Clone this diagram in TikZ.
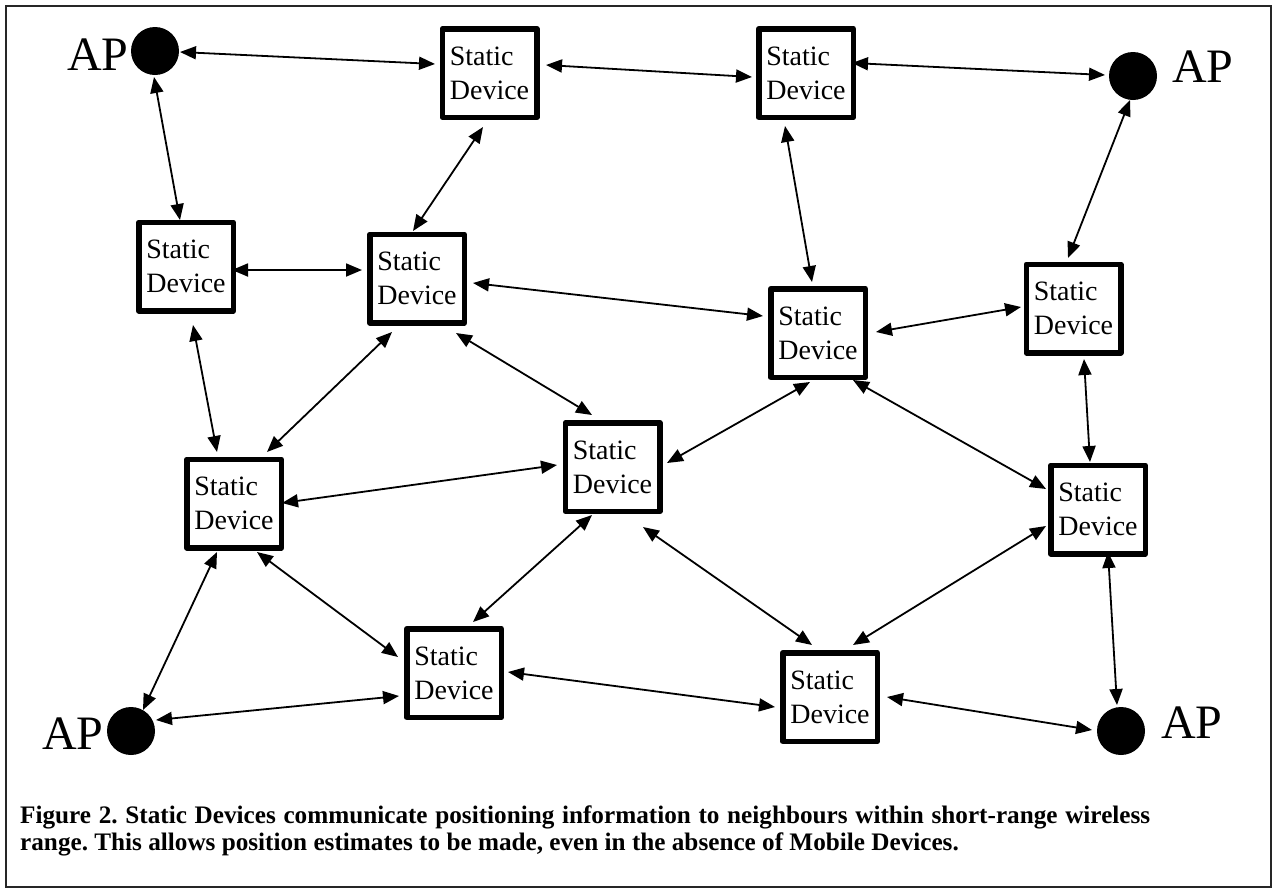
\documentclass[tikz,border=0pt]{standalone}
\usepackage{fontspec}
\setmainfont{Liberation Serif}
\usetikzlibrary{arrows.meta,calc}
\frenchspacing
\begin{document}
\begin{tikzpicture}[x=1pt,y=-1pt,
  dev/.style={draw, line width=5.5pt, line join=round, minimum width=94.5pt, minimum height=88.5pt,
    align=left, inner sep=0pt, fill=white, font=\fontsize{28}{34}\selectfont},
  ap/.style={circle, fill=black, minimum size=48pt, inner sep=0pt},
  aplabel/.style={anchor=base west, inner sep=0pt, font=\fontsize{48}{48}\selectfont},
  caption/.style={anchor=base west, inner sep=0pt, font=\fontsize{25.2}{27}\selectfont\bfseries},
  link/.style={line width=1.8pt, {Triangle[length=16pt,width=13pt]}-{Triangle[length=16pt,width=13pt]}},
]
\useasboundingbox (0,0) rectangle (1277,892);
\draw[line width=1.5pt, draw=black!85] (6,6) rectangle (1271,887);

% access points
\node[ap] (AP1) at (155,51) {};
\node[ap] (AP2) at (1133,76) {};
\node[ap] (AP3) at (131,731) {};
\node[ap] (AP4) at (1121,731) {};
\node[aplabel] (L1) at (67,70) {AP};
\node[aplabel] (L2) at (1172,82) {AP};
\node[aplabel] (L3) at (42,749) {AP};
\node[aplabel] (L4) at (1161,738) {AP};

% static devices
\node[dev] (S1) at (489.5,73) {Static\\Device};
\node[dev] (S2) at (806,73) {Static\\Device};
\node[dev] (S3) at (186,266.5) {Static\\Device};
\node[dev] (S4) at (417,278.5) {Static\\Device};
\node[dev] (S5) at (818,333) {Static\\Device};
\node[dev] (S6) at (1073.5,308.5) {Static\\Device};
\node[dev] (S7) at (234,503.5) {Static\\Device};
\node[dev] (S8) at (612.5,467) {Static\\Device};
\node[dev] (S9) at (1098,509.5) {Static\\Device};
\node[dev] (S10) at (454,673) {Static\\Device};
\node[dev] (S11) at (830,697) {Static\\Device};

% connectors
\draw[link] ($(AP1)+(25,1)$) -- ($(S1)+(-54.5,-9)$);
\draw[link] ($(S1)+(56.5,-8)$) -- ($(S2)+(-54,4)$);
\draw[link] ($(S2)+(46,-10)$) -- ($(AP2)+(-28,-1)$);
\draw[link] ($(AP1)+(-1,26)$) -- ($(S3)+(-6,-46.5)$);
\draw[link] ($(S1)+(-6.5,54)$) -- ($(S4)+(-4,-47.5)$);
\draw[link] ($(S2)+(-21,53)$) -- ($(S5)+(-6,-51)$);
\draw[link] ($(AP2)+(-3,24)$) -- ($(S6)+(-5.5,-50.5)$);
\draw[link] ($(S3)+(46,3.5)$) -- ($(S4)+(-55,-8.5)$);
\draw[link] ($(S4)+(56,4.5)$) -- ($(S5)+(-55,-17)$);
\draw[link] ($(S5)+(58,-1)$) -- ($(S6)+(-52.5,-1.5)$);
\draw[link] ($(S3)+(7,58.5)$) -- ($(S7)+(-17,-51.5)$);
\draw[link] ($(S4)+(-25,53.5)$) -- ($(S7)+(33,-51.5)$);
\draw[link] ($(S4)+(39,54.5)$) -- ($(S8)+(-20.5,-52)$);
\draw[link] ($(S7)+(48,-0.5)$) -- ($(S8)+(-55.5,-2)$);
\draw[link] ($(S7)+(-17,48.5)$) -- ($(AP3)+(12,-21)$);
\draw[link] ($(S7)+(23,48.5)$) -- ($(S10)+(-56,-16)$);
\draw[link] ($(AP3)+(25,-11)$) -- ($(S10)+(-55,23)$);
\draw[link] ($(S8)+(-20.5,48)$) -- ($(S10)+(19,-51)$);
\draw[link] ($(S8)+(54.5,-4)$) -- ($(S5)+(-8,49)$);
\draw[link] ($(S5)+(35,47)$) -- ($(S9)+(-52,-20.5)$);
\draw[link] ($(S8)+(30.5,60)$) -- ($(S11)+(-18,-52)$);
\draw[link] ($(S11)+(23,-52)$) -- ($(S9)+(-52,16.5)$);
\draw[link] ($(S6)+(10.5,50.5)$) -- ($(S9)+(-8,-47.5)$);
\draw[link] ($(S9)+(10,42.5)$) -- ($(AP4)+(-4,-26)$);
\draw[link] ($(S10)+(54,-1)$) -- ($(S11)+(-55,10)$);
\draw[link] ($(S11)+(57,0)$) -- ($(AP4)+(-29,-1)$);

% caption
\node[caption] (C1) at (20,823) {\makebox[1130pt][s]{Figure 2. Static Devices communicate positioning information to neighbours within short-range wireless}};
\node[caption] (C2) at (20,850) {range. This allows position estimates to be made, even in the absence of Mobile Devices.};
\end{tikzpicture}
\end{document}
